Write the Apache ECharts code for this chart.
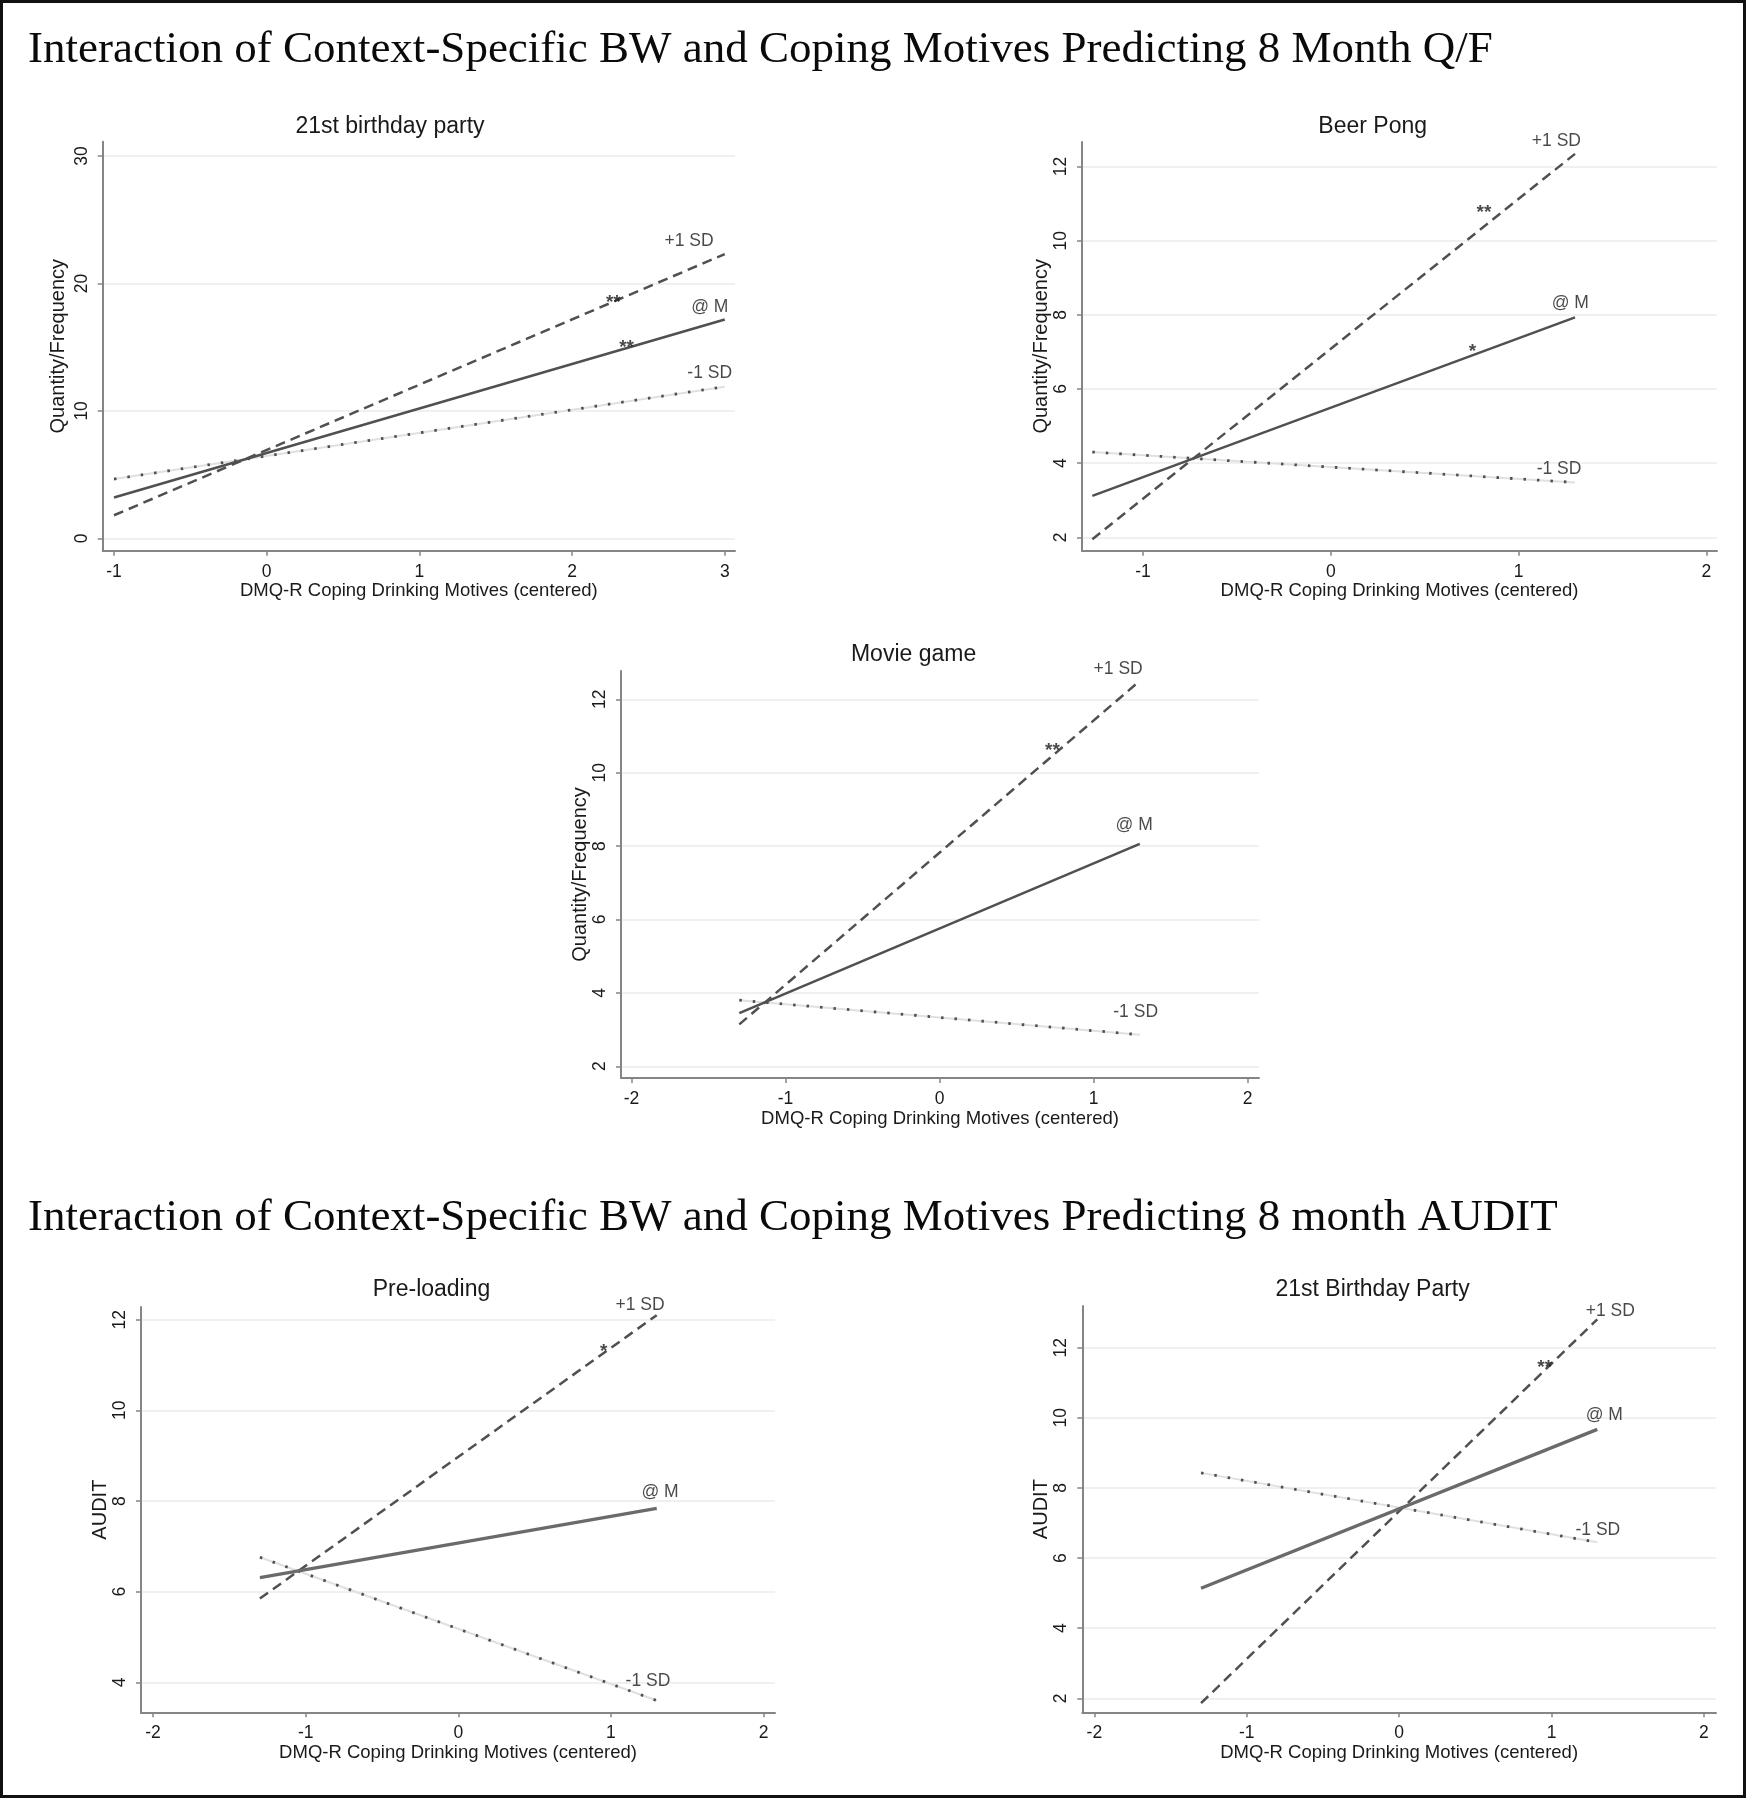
<!DOCTYPE html>
<html><head><meta charset="utf-8">
<script src="https://cdn.jsdelivr.net/npm/echarts@6/dist/echarts.min.js"></script>
<style>html,body{margin:0;padding:0;background:#fff;} #c{width:1748px;height:1800px;}</style>
</head><body><div id="c"></div>
<script>
// ---------- DATA ----------
const mainTitles = [
  "Interaction of Context-Specific BW and Coping Motives Predicting 8 Month Q/F",
  "Interaction of Context-Specific BW and Coping Motives Predicting 8 month AUDIT"
];
const panelTitles = ["21st birthday party", "Beer Pong", "Movie game", "Pre-loading", "21st Birthday Party"];
const yAxisTitles = ["Quantity/Frequency", "Quantity/Frequency", "Quantity/Frequency", "AUDIT", "AUDIT"];
const xAxisTitle = "DMQ-R Coping Drinking Motives (centered)";
const seriesNames = ["+1 SD", "@ M", "-1 SD"];

// x values at the two ends of each line (per panel)
const xEnds1 = [-1, 3];
const xEnds2 = [-1.27, 1.3];
const xEnds3 = [-1.3, 1.3];
const xEnds4 = [-1.3, 1.3];
const xEnds5 = [-1.3, 1.3];

// predicted values at the two ends: +1 SD, @ M, -1 SD
const plusSD1 = [1.81, 22.3],  atM1 = [3.2, 17.17], minusSD1 = [4.65, 11.9];
const plusSD2 = [1.95, 12.34], atM2 = [3.12, 7.93], minusSD2 = [4.30, 3.48];
const plusSD3 = [3.14, 12.5],  atM3 = [3.45, 8.06], minusSD3 = [3.80, 2.86];
const plusSD4 = [5.85, 12.1],  atM4 = [6.31, 7.84], minusSD4 = [6.76, 3.60];
const plusSD5 = [1.86, 12.81], atM5 = [5.14, 9.67], minusSD5 = [8.43, 6.45];

// tick values
const xTicks1 = [-1, 0, 1, 2, 3],  yTicks1 = [0, 10, 20, 30];
const xTicks2 = [-1, 0, 1, 2],     yTicks2 = [2, 4, 6, 8, 10, 12];
const xTicks3 = [-2, -1, 0, 1, 2], yTicks3 = [2, 4, 6, 8, 10, 12];
const xTicks4 = [-2, -1, 0, 1, 2], yTicks4 = [4, 6, 8, 10, 12];
const xTicks5 = [-2, -1, 0, 1, 2], yTicks5 = [2, 4, 6, 8, 10, 12];

// axis ranges
const xRange1 = [-1.074, 3.067], yRange1 = [-0.97, 31.12];
const xRange2 = [-1.325, 2.056], yRange2 = [1.64, 12.66];
const xRange3 = [-2.068, 2.074], yRange3 = [1.68, 12.77];
const xRange4 = [-2.079, 2.075], yRange4 = [3.34, 12.28];
const xRange5 = [-2.079, 2.079], yRange5 = [1.60, 13.19];

// annotations: [text, x, y]
const notes1 = [["+1 SD", 2.605, 23.3], ["@ M", 2.78, 18.1], ["-1 SD", 2.755, 12.97], ["**", 2.27, 19.2], ["**", 2.357, 15.67]];
const notes2 = [["+1 SD", 1.07, 12.68], ["@ M", 1.176, 8.31], ["-1 SD", 1.096, 3.83], ["**", 0.815, 11.0], ["*", 0.754, 7.25]];
const notes3 = [["+1 SD", 1.0, 12.81], ["@ M", 1.143, 8.57], ["-1 SD", 1.128, 3.47], ["**", 0.733, 10.85]];
const notes4 = [["+1 SD", 1.03, 12.31], ["@ M", 1.2, 8.2], ["-1 SD", 1.096, 4.02], ["*", 0.953, 11.5]];
const notes5 = [["+1 SD", 1.224, 13.03], ["@ M", 1.224, 10.08], ["-1 SD", 1.157, 6.8], ["**", 0.955, 11.71]];

// ---------- BUILD ----------
const panels = [
  {xe: xEnds1, p: plusSD1, m: atM1, n: minusSD1, xt: xTicks1, yt: yTicks1, xr: xRange1, yr: yRange1, notes: notes1},
  {xe: xEnds2, p: plusSD2, m: atM2, n: minusSD2, xt: xTicks2, yt: yTicks2, xr: xRange2, yr: yRange2, notes: notes2},
  {xe: xEnds3, p: plusSD3, m: atM3, n: minusSD3, xt: xTicks3, yt: yTicks3, xr: xRange3, yr: yRange3, notes: notes3},
  {xe: xEnds4, p: plusSD4, m: atM4, n: minusSD4, xt: xTicks4, yt: yTicks4, xr: xRange4, yr: yRange4, notes: notes4},
  {xe: xEnds5, p: plusSD5, m: atM5, n: minusSD5, xt: xTicks5, yt: yTicks5, xr: xRange5, yr: yRange5, notes: notes5}
];
// layout (px)
const gridRects = [
  {left: 102.7, top: 141.7, width: 632.3, height: 409},
  {left: 1082, top: 142, width: 635, height: 408.7},
  {left: 621, top: 671, width: 638, height: 407},
  {left: 141, top: 1307, width: 634, height: 405.3},
  {left: 1082.3, top: 1306, width: 633.7, height: 406.3}
];
const titlePos = [[390, 127], [1372.7, 127], [913.6, 655], [431.5, 1290], [1372.6, 1290]];
const yNameGap = [34, 30, 30, 30, 31];

const SANS = "Liberation Sans";
const AXIS_COLOR = "#858585";
const LINE_COLOR = "#505050";
const TEXT = "#1a1a1a";

const grids = [], xAxes = [], yAxes = [], series = [], graphics = [];

panels.forEach((pn, i) => {
  grids.push(Object.assign({containLabel: false}, gridRects[i]));
  xAxes.push({
    gridIndex: i, type: 'value', min: pn.xr[0], max: pn.xr[1],
    axisLine: {show: true, onZero: false, lineStyle: {color: AXIS_COLOR, width: 2}},
    axisTick: {show: true, customValues: pn.xt, length: 5, lineStyle: {color: AXIS_COLOR, width: 1.5}},
    axisLabel: {customValues: pn.xt, margin: 12, fontSize: 17.5, color: TEXT, fontFamily: SANS},
    splitLine: {show: false},
    name: xAxisTitle, nameLocation: 'middle', nameGap: 31,
    nameTextStyle: {fontSize: 18.5, color: TEXT, fontFamily: SANS}
  });
  yAxes.push({
    gridIndex: i, type: 'value', min: pn.yr[0], max: pn.yr[1],
    axisLine: {show: true, onZero: false, lineStyle: {color: AXIS_COLOR, width: 2}},
    axisTick: {show: true, customValues: pn.yt, length: 5, lineStyle: {color: AXIS_COLOR, width: 1.5}},
    axisLabel: {customValues: pn.yt, rotate: 90, margin: 12, fontSize: 17.5, color: TEXT, fontFamily: SANS},
    splitLine: {show: true, lineStyle: {color: '#ebebeb', width: 1.5}},
    name: yAxisTitles[i], nameLocation: 'middle', nameGap: yNameGap[i],
    nameTextStyle: {fontSize: 20, color: TEXT, fontFamily: SANS}
  });
  const seg = v => [[pn.xe[0], v[0]], [pn.xe[1], v[1]]];
  const base = {type: 'line', xAxisIndex: i, yAxisIndex: i, symbol: 'none', silent: true, animation: false};
  series.push(Object.assign({}, base, {name: seriesNames[2] + ' bg', data: seg(pn.n), z: 1,
    lineStyle: {color: '#e0e0e0', width: 2}}));
  series.push(Object.assign({}, base, {name: seriesNames[2], data: seg(pn.n), z: 2,
    lineStyle: {color: LINE_COLOR, width: 2.8, type: [2.5, 11]}}));
  series.push(Object.assign({}, base, {name: seriesNames[0], data: seg(pn.p), z: 3,
    lineStyle: {color: LINE_COLOR, width: 2.5, type: [10, 6]}}));
  series.push(Object.assign({}, base, {name: seriesNames[1], data: seg(pn.m), z: 3,
    lineStyle: {color: i >= 3 ? '#6a6a6a' : LINE_COLOR, width: i >= 3 ? 3.3 : 2.5}}));
  series.push({
    type: 'scatter', xAxisIndex: i, yAxisIndex: i, silent: true, animation: false, z: 5,
    clip: false, symbolSize: 1, itemStyle: {color: 'rgba(0,0,0,0)'},
    labelLayout: {hideOverlap: false},
    data: pn.notes.map(n => {
      const star = n[0].charAt(0) === '*';
      return {
        value: [n[1], n[2]], name: n[0],
        label: {
          show: true, position: 'inside', formatter: '{b}',
          align: star ? 'center' : 'left', verticalAlign: star ? 'top' : 'middle',
          fontSize: star ? 19 : 17.5, fontWeight: star ? 'bold' : 'normal',
          color: TEXT, fontFamily: SANS
        }
      };
    })
  });
  graphics.push({type: 'text', x: titlePos[i][0], y: titlePos[i][1], silent: true,
    style: {text: panelTitles[i], fill: TEXT, font: '23px "Liberation Sans"', align: 'center', verticalAlign: 'middle'}});
});

graphics.push({type: 'text', x: 28, y: 50, silent: true,
  style: {text: mainTitles[0], fill: '#0a0a0a', font: '45px "Liberation Serif"', align: 'left', verticalAlign: 'middle'}});
graphics.push({type: 'text', x: 28, y: 1218, silent: true,
  style: {text: mainTitles[1], fill: '#0a0a0a', font: '45px "Liberation Serif"', align: 'left', verticalAlign: 'middle'}});
graphics.push({type: 'rect', silent: true, shape: {x: 1.5, y: 1.5, width: 1743, height: 1795},
  style: {fill: 'none', stroke: '#111', lineWidth: 3}, z: 100});

const chart = echarts.init(document.getElementById('c'), null, {renderer: 'canvas'});
chart.setOption({
  backgroundColor: '#fff',
  animation: false,
  grid: grids, xAxis: xAxes, yAxis: yAxes, series: series,
  graphic: graphics
});
</script></body></html>
